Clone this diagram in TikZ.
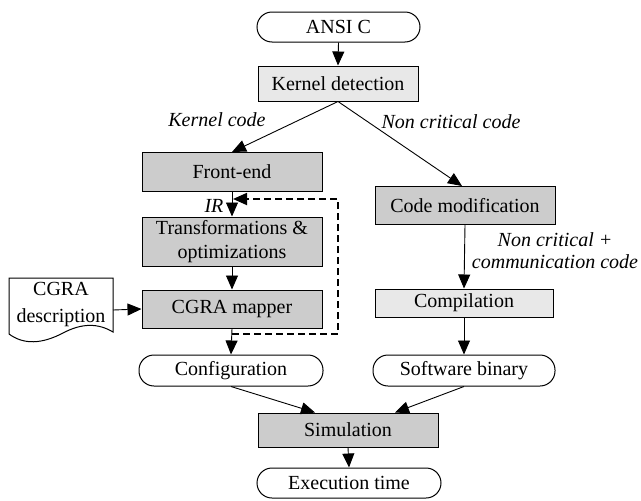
\documentclass[tikz,border=0pt]{standalone}
\usepackage{fontspec}
\setmainfont{Liberation Serif}
\usetikzlibrary{arrows.meta}
\definecolor{gdark}{HTML}{CCCCCC}
\definecolor{glight}{HTML}{E8E8E8}
\begin{document}
\begin{tikzpicture}[x=1pt,y=-1pt, font=\fontsize{20}{24}\selectfont,
  every node/.style={align=center, inner sep=0pt},
  proc/.style={draw, line width=1pt, fill=gdark},
  light/.style={draw, line width=1pt, fill=glight},
  term/.style={draw, line width=1pt, rounded corners=15pt},
  arr/.style={-{Triangle[length=14pt,width=12pt]}, line width=0.9pt},
  fbline/.style={line width=1.8pt, dash pattern=on 7pt off 4pt, -{Triangle[length=14pt,width=12pt]}},
  lbl/.style={font=\fontsize{20}{22}\selectfont\itshape}]
\useasboundingbox (0,0) rectangle (641,501);

\node[term, minimum width=163pt, minimum height=30pt] (ansi) at (338.5,27) {ANSI C};
\node[light, minimum width=160pt, minimum height=35pt] (kernel) at (338,83.5) {Kernel detection};
\node[proc, minimum width=180pt, minimum height=39pt] (front) at (232,172) {Front-end};
\node[proc, minimum width=180pt, minimum height=49pt] (trans) at (232,241.5) {Transformations \&\\optimizations};
\node[proc, minimum width=180pt, minimum height=38pt] (mapper) at (232,309) {CGRA mapper};
\node[term, minimum width=184pt, minimum height=31pt] (config) at (231,370.5) {Configuration};
\node[proc, minimum width=180pt, minimum height=38pt] (codemod) at (465,205.5) {Code modification};
\node[light, minimum width=178pt, minimum height=28pt] (compil) at (464,303) {Compilation};
\node[term, minimum width=182pt, minimum height=31pt] (swbin) at (464,370.5) {Software binary};
\node[proc, minimum width=180pt, minimum height=34pt] (sim) at (348,430) {Simulation};
\node[term, minimum width=184pt, minimum height=30pt] (exec) at (349,483) {Execution time};

% CGRA description document shape
\draw[line width=1pt, fill=white] (9,278) -- (113,278) -- (113,332)
  .. controls (98,323) and (82,323) .. (63,333)
  .. controls (42,344) and (24,345) .. (9,334) -- cycle;
\node[font=\fontsize{20}{27}\selectfont] (desc) at (61,305) {CGRA\\description};
\coordinate (descr) at (113,310);

% labels
\node[lbl] (lk) at (217,120) {Kernel code};
\node[lbl] (lnc) at (451,122) {Non critical code};
\node[lbl] (lir) at (214,206) {IR};
\node[lbl] (lnc2) at (555,251) {Non critical +\\communication code};

% connectors
\draw[arr] (ansi.south) -- (kernel.north);
\draw[arr] (kernel.south) -- (front.north);
\draw[arr] (kernel.south) -- ([xshift=-3pt]codemod.north);
\draw[arr] (front.south) -- (trans.north);
\draw[arr] (trans.south) -- (mapper.north);
\draw[arr] (mapper.south) -- (config.north);
\draw[arr] (descr) -- (mapper.west);
\draw[arr] (codemod.south) -- (compil.north);
\draw[arr] (compil.south) -- (swbin.north);
\draw[arr] (config.south) -- ([xshift=-33pt]sim.north);
\draw[arr] (swbin.south) -- ([xshift=47pt]sim.north);
\draw[arr] (sim.south) -- (exec.north);

% dashed feedback loop
\coordinate (d1) at (232,334);
\coordinate (d2) at (338,334);
\coordinate (d3) at (338,199);
\coordinate (d4) at (233,199);
\draw[fbline] (d1) -- (d2) -- (d3) -- (d4);
\end{tikzpicture}
\end{document}
